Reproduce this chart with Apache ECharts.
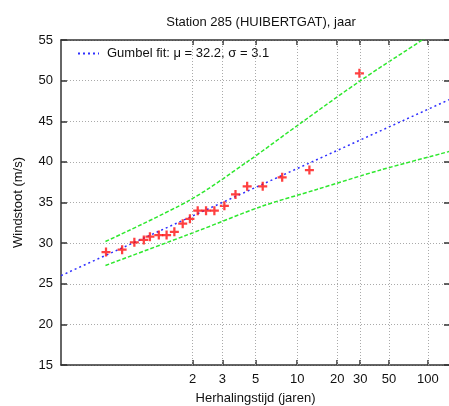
<!DOCTYPE html>
<html lang="nl">
<head>
    <meta charset="UTF-8">
    <title>Station 285 (HUIBERTGAT), jaar</title>
    <style>
        html, body { margin: 0; padding: 0; background: #fff; }
    </style>
</head>
<body>
<div id="main" style="width: 449px;height:406px;"></div>
<script type="text/javascript" src="https://cdn.jsdelivr.net/npm/echarts@6/dist/echarts.min.js"></script>
<script>
    // return periods shown on the x axis (Gumbel reduced variate scale)
    var periods = [2, 3, 5, 10, 20, 30, 50, 100];
    var yTicks = [15, 20, 25, 30, 35, 40, 45, 50, 55];

    // observed maxima: position on reduced variate axis and wind gust (m/s)
    var obsX = [-1.19, -0.90, -0.68, -0.51, -0.40, -0.24, -0.10, 0.04, 0.19, 0.32,
                0.46, 0.61, 0.76, 0.94, 1.14, 1.35, 1.63, 1.98, 2.47, 3.37];
    var obsY = [28.9, 29.2, 30.1, 30.4, 30.8, 31.0, 31.0, 31.4, 32.4, 33.0,
                34.0, 34.0, 34.0, 34.6, 36.0, 37.0, 37.0, 38.1, 39.0, 50.9];

    // Gumbel fit line (mu = 32.2, sigma = 3.1)
    var fitX = [-2, 5];
    var fitY = [26.0, 47.7];

    // confidence bands
    var upperX = [-1.2, 0.32, 1.35, 2.36, 3.39, 4.5, 5.0];
    var upperY = [30.2, 35.3, 40.0, 45.0, 50.0, 55.0, 57.3];
    var lowerX = [-1.2, 0.5, 1.6, 2.6, 3.75, 5.0];
    var lowerY = [27.25, 31.6, 34.5, 36.6, 39.0, 41.3];

    var fitName = 'Gumbel fit: \u03bc = 32.2, \u03c3 = 3.1';

    // reduced variate of each return period
    var periodPos = periods.map(function (t) {
        return -Math.log(-Math.log(1 - 1 / t));
    });

    function zip(xs, ys) {
        return xs.map(function (x, i) { return [x, ys[i]]; });
    }

    function periodLabel(v) {
        var best = 0;
        for (var i = 1; i < periodPos.length; i++) {
            if (Math.abs(periodPos[i] - v) < Math.abs(periodPos[best] - v)) best = i;
        }
        return String(periods[best]);
    }

    var font = 'Liberation Sans, Arial, sans-serif';
    var axisLine = {onZero: false, lineStyle: {color: '#333', width: 1.5}};
    var gridStyle = {color: '#aaa', width: 1, type: [1, 2]};
    var tickStyle = {color: '#333', width: 1.5};
    var yMin = yTicks[0], yMax = yTicks[yTicks.length - 1], yStep = yTicks[1] - yTicks[0];

    var myChart = echarts.init(document.getElementById('main'));

    var option = {
        animation: false,
        textStyle: {fontFamily: font},
        title: {
            text: 'Station 285 (HUIBERTGAT), jaar',
            left: 256,
            textAlign: 'center',
            top: 11,
            textStyle: {fontSize: 13, fontWeight: 'normal', color: '#111', fontFamily: font}
        },
        legend: {
            data: [fitName],
            left: 77,
            top: 47,
            padding: 0,
            itemWidth: 21,
            itemHeight: 10,
            itemStyle: {opacity: 0},
            textStyle: {fontSize: 13, color: '#111', fontFamily: font, padding: [0, 0, 0, 3]}
        },
        grid: {left: 61, top: 40, right: -1, bottom: 41, outerBoundsMode: 'none'},
        xAxis: [
            {
                type: 'value',
                min: -2,
                max: 5,
                name: 'Herhalingstijd (jaren)',
                nameLocation: 'middle',
                nameGap: 27,
                nameTextStyle: {fontSize: 13, color: '#111'},
                axisLine: axisLine,
                axisTick: {customValues: periodPos, inside: true, length: 5, lineStyle: tickStyle},
                axisLabel: {customValues: periodPos, formatter: periodLabel, fontSize: 13, color: '#111', margin: 8},
                splitLine: {show: false}
            },
            {
                type: 'value',
                position: 'top',
                min: -2,
                max: 5,
                axisLine: axisLine,
                axisTick: {customValues: periodPos, inside: true, length: 5, lineStyle: tickStyle},
                axisLabel: {show: false},
                splitLine: {show: false}
            }
        ],
        yAxis: [
            {
                type: 'value',
                min: yMin,
                max: yMax,
                interval: yStep,
                name: 'Windstoot (m/s)',
                nameLocation: 'middle',
                nameGap: 36,
                nameTextStyle: {fontSize: 13, color: '#111'},
                axisLine: axisLine,
                axisTick: {inside: true, length: 6, lineStyle: tickStyle},
                axisLabel: {fontSize: 13, color: '#111', margin: 8},
                splitLine: {show: true, lineStyle: gridStyle}
            },
            {
                type: 'value',
                position: 'right',
                min: yMin,
                max: yMax,
                interval: yStep,
                axisLine: axisLine,
                axisTick: {inside: true, length: 6, lineStyle: tickStyle},
                axisLabel: {show: false},
                splitLine: {show: false}
            }
        ],
        series: [
            {
                name: 'raster',
                type: 'line',
                data: [],
                z: 1,
                markLine: {
                    silent: true,
                    symbol: 'none',
                    label: {show: false},
                    lineStyle: gridStyle,
                    data: periodPos.map(function (p) { return {xAxis: p}; })
                }
            },
            {
                name: fitName,
                type: 'line',
                data: zip(fitX, fitY),
                symbol: 'none',
                lineStyle: {color: '#2f2fff', width: 1.5, type: [2, 3]},
                itemStyle: {color: '#2f2fff'},
                z: 3
            },
            {
                name: 'upper',
                type: 'line',
                data: zip(upperX, upperY),
                symbol: 'none',
                smooth: 0.3,
                lineStyle: {color: '#2ee82e', width: 1.5, type: [4, 2]},
                z: 2
            },
            {
                name: 'lower',
                type: 'line',
                data: zip(lowerX, lowerY),
                symbol: 'none',
                smooth: 0.3,
                lineStyle: {color: '#2ee82e', width: 1.5, type: [4, 2]},
                z: 2
            },
            {
                name: 'waarnemingen',
                type: 'scatter',
                data: zip(obsX, obsY),
                symbol: 'path://M3,0H5V3H8V5H5V8H3V5H0V3H3Z',
                symbolSize: 9,
                itemStyle: {color: '#ff1010'},
                z: 4
            }
        ]
    };

    myChart.setOption(option);
</script>
</body>
</html>
